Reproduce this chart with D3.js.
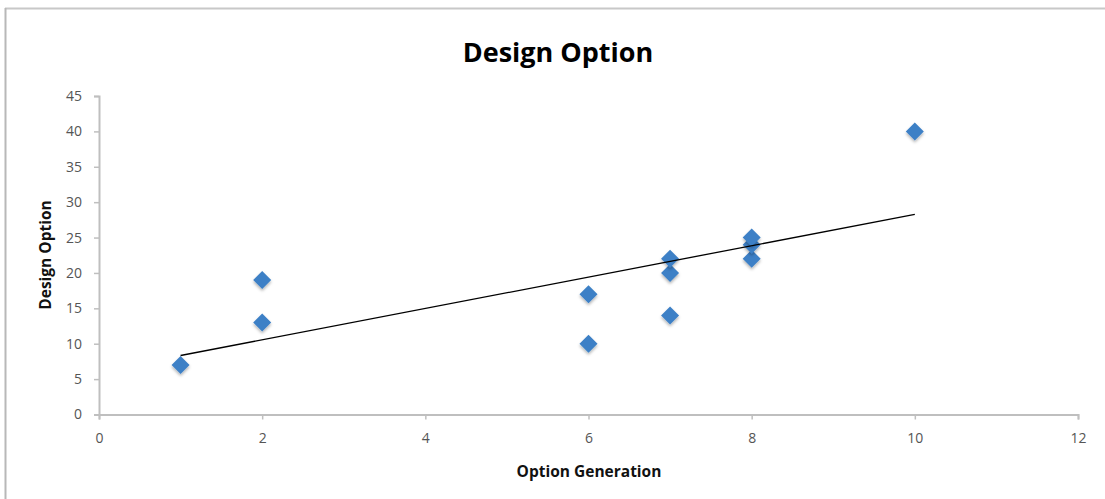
<!DOCTYPE html>
<html><head><meta charset="utf-8">
<script src="https://cdn.jsdelivr.net/npm/d3@7/dist/d3.min.js"></script>
<style>body{margin:0;background:#fff}svg{display:block}</style>
</head><body>
<svg id="c" width="1105" height="499"></svg>
<script>
const optionGeneration = [1, 2, 2, 6, 6, 7, 7, 7, 8, 8, 8, 10];
const designOption     = [7, 13, 19, 10, 17, 14, 20, 22, 22, 24, 25, 40];
const xTicks = [0, 2, 4, 6, 8, 10, 12];
const yTicks = [0, 5, 10, 15, 20, 25, 30, 35, 40, 45];
const title = "Design Option";
const xTitle = "Option Generation";
const yTitle = "Design Option";

const svg = d3.select("#c");
const font = "'Open Sans', 'Liberation Sans', sans-serif";

// outer frame
svg.append("line").attr("x1",5).attr("x2",1105).attr("y1",8.5).attr("y2",8.5).attr("stroke","#c8c8c8").attr("stroke-width",2);
svg.append("line").attr("x1",5.5).attr("x2",5.5).attr("y1",8).attr("y2",499).attr("stroke","#b8b8b8").attr("stroke-width",2);

const x = d3.scaleLinear().domain([0,12]).range([99,1078]);
const y = d3.scaleLinear().domain([0,45]).range([414.5,96]);

const xAxis = svg.append("g").attr("transform",`translate(0,${y(0)})`)
  .call(d3.axisBottom(x).tickValues(xTicks).tickSize(5).tickPadding(14).tickFormat(d3.format("d")));
const yAxis = svg.append("g").attr("transform",`translate(${x(0)},0)`)
  .call(d3.axisLeft(y).tickValues(yTicks).tickSize(5).tickPadding(12).tickFormat(d3.format("d")));
[xAxis,yAxis].forEach(a=>{
  a.selectAll(".domain").attr("stroke","#bfbfbf").attr("stroke-width",2);
  a.selectAll(".tick line").attr("stroke","#bfbfbf").attr("stroke-width",1.5);
  a.selectAll("text").attr("fill","#555").style("font-family",font).style("font-size","14px");
});

// trend line (least squares)
const n = optionGeneration.length;
const mx = d3.mean(optionGeneration), my = d3.mean(designOption);
let sxy=0, sxx=0;
for(let i=0;i<n;i++){ sxy+=(optionGeneration[i]-mx)*(designOption[i]-my); sxx+=(optionGeneration[i]-mx)**2; }
const slope = sxy/sxx, icpt = my - slope*mx;
const x0 = d3.min(optionGeneration), x1 = d3.max(optionGeneration);

const defs = svg.append("defs");
const f = defs.append("filter").attr("id","sh").attr("x","-50%").attr("y","-50%").attr("width","200%").attr("height","200%");
f.append("feDropShadow").attr("dx",0).attr("dy",2).attr("stdDeviation",1.5).attr("flood-color","#000").attr("flood-opacity",0.3);

const pts = optionGeneration.map((v,i)=>({x:v,y:designOption[i]}));
svg.append("g").selectAll("path").data(pts).join("path")
  .attr("transform",d=>`translate(${x(d.x)},${y(d.y)})`)
  .attr("d","M0,-9L9,0L0,9L-9,0Z")
  .attr("fill","#3d80c6").attr("filter","url(#sh)");

svg.append("line")
  .attr("x1",x(x0)).attr("y1",y(slope*x0+icpt))
  .attr("x2",x(x1)).attr("y2",y(slope*x1+icpt))
  .attr("stroke","#000").attr("stroke-width",1.3);

svg.append("text").attr("x",558).attr("y",62).attr("text-anchor","middle")
  .style("font-family",font).style("font-weight","bold").style("font-size","27px").attr("fill","#000").text(title);
svg.append("text").attr("x",589).attr("y",477).attr("text-anchor","middle")
  .style("font-family",font).style("font-weight","bold").style("font-size","15.5px").attr("fill","#111").text(xTitle);
svg.append("text").attr("transform","translate(51,255) rotate(-90)").attr("text-anchor","middle")
  .style("font-family",font).style("font-weight","bold").style("font-size","15.5px").attr("fill","#111").text(yTitle);
</script>
</body></html>
